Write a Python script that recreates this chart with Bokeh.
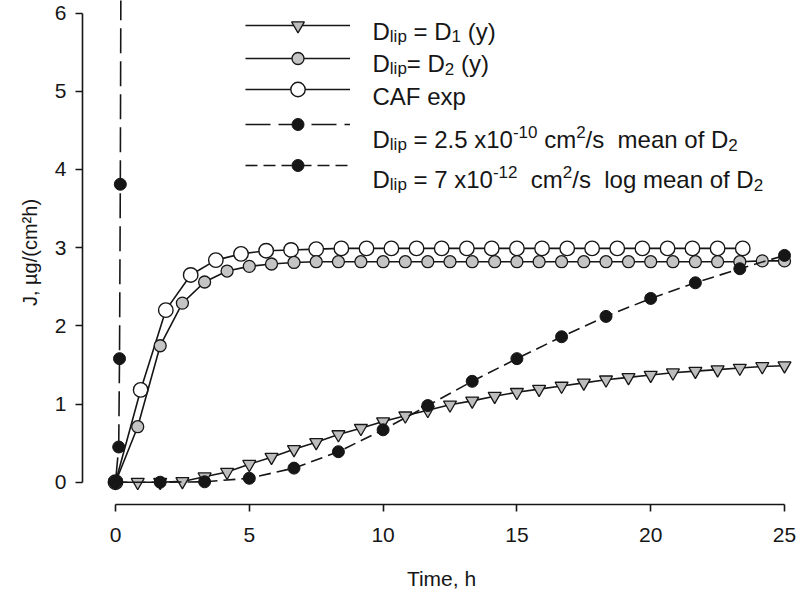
import re
from bokeh.plotting import figure
from bokeh.models import Range1d, Label, Legend, LegendItem, FixedTicker
from bokeh.core.properties import value
from bokeh.embed import file_html
from bokeh.resources import INLINE

# ---------------- data ----------------
x_ticks = [0, 5, 10, 15, 20, 25]
y_ticks = [0, 1, 2, 3, 4, 5, 6]

t_sim = [0, 0.83, 1.67, 2.5, 3.33, 4.17, 5, 5.83, 6.67, 7.5, 8.33, 9.17, 10, 10.83,
         11.67, 12.5, 13.33, 14.17, 15, 15.83, 16.67, 17.5, 18.33, 19.17, 20, 20.83,
         21.67, 22.5, 23.33, 24.17, 25]
j_d1 = [0, 0, 0, 0.01, 0.07, 0.13, 0.23, 0.32, 0.42, 0.51, 0.61, 0.69, 0.775, 0.85,
        0.92, 0.99, 1.04, 1.10, 1.15, 1.19, 1.23, 1.27, 1.31, 1.34, 1.37, 1.40,
        1.42, 1.44, 1.46, 1.48, 1.49]
j_d2 = [0, 0.71, 1.745, 2.29, 2.56, 2.70, 2.76, 2.79, 2.81, 2.82, 2.82, 2.82, 2.82,
        2.82, 2.82, 2.82, 2.82, 2.82, 2.82, 2.82, 2.82, 2.82, 2.82, 2.82, 2.82, 2.82,
        2.82, 2.82, 2.82, 2.83, 2.83]

t_exp = [0, 0.94, 1.88, 2.81, 3.75, 4.69, 5.63, 6.56, 7.5, 8.44, 9.38, 10.31, 11.25,
         12.19, 13.13, 14.06, 15, 15.94, 16.88, 17.81, 18.75, 19.69, 20.63, 21.56,
         22.5, 23.44]
j_exp = [0, 1.18, 2.20, 2.65, 2.84, 2.92, 2.96, 2.97, 2.98, 2.99, 2.99, 2.99, 2.99,
         2.99, 2.99, 2.99, 2.99, 2.99, 2.99, 2.99, 2.99, 2.99, 2.99, 2.99, 2.99, 2.99]

t_mean = [0, 0.12, 0.15, 0.18, 0.21]
j_mean = [0, 0.45, 1.58, 3.81, 7.5]

t_logmean = [0, 1.67, 3.33, 5, 6.67, 8.33, 10, 11.67, 13.33, 15, 16.67, 18.33, 20,
             21.67, 23.33, 25]
j_logmean = [0, 0, 0.005, 0.05, 0.18, 0.39, 0.67, 0.98, 1.29, 1.58, 1.86, 2.12, 2.35,
             2.55, 2.73, 2.90]

x_title = "Time, h"
y_title = "J, µg/(cm²h)"

# ---------------- layout (picture pixels) ----------------
W, H = 800, 593
FR_L, FR_B, FR_T, FR_R = 82, 504, 0, 800      # frame edges
PX0, PX25 = 115, 784                          # x of data x=0 and x=25
PY0, PY6 = 481.7, 12.5                        # y of data y=0 and y=6
sx_per = (PX25 - PX0) / 25.0
sy_per = (PY0 - PY6) / 6.0
x_start = (FR_L - PX0) / sx_per
x_end = 25 + (FR_R - PX25) / sx_per
y_start = -(FR_B - PY0) / sy_per
y_end = 6 + (PY6 - FR_T) / sy_per

INK = "#161616"
FONT = "Liberation Sans"

p = figure(width=W, height=H, output_backend="svg", toolbar_location=None,
           x_range=Range1d(x_start, x_end), y_range=Range1d(y_start, y_end),
           min_border_left=FR_L, min_border_bottom=H - FR_B,
           min_border_top=FR_T, min_border_right=W - FR_R)
p.outline_line_color = None
p.xgrid.visible = False
p.ygrid.visible = False
p.background_fill_color = "white"
p.border_fill_color = "white"

for ax, ticks, b in ((p.xaxis, x_ticks, (0, 25)), (p.yaxis, y_ticks, (0, 6))):
    ax.ticker = FixedTicker(ticks=ticks)
    ax.bounds = b
    ax.axis_line_width = 1.6
    ax.axis_line_color = INK
    ax.major_tick_line_width = 1.6
    ax.major_tick_line_color = INK
    ax.major_tick_out = 7
    ax.major_tick_in = 0
    ax.minor_tick_line_color = None
    ax.major_label_text_font = FONT
    ax.major_label_text_font_size = "21px"
    ax.major_label_text_color = INK
    ax.axis_label_text_font = FONT
    ax.axis_label_text_font_style = "normal"
    ax.axis_label_text_color = INK

p.xaxis.major_label_standoff = 16
p.yaxis.major_label_standoff = 9
p.xaxis.axis_label = x_title
p.yaxis.axis_label = y_title
p.xaxis.axis_label_text_font_size = "21px"
p.yaxis.axis_label_text_font_size = "20px"
p.xaxis.axis_label_standoff = 22
p.yaxis.axis_label_standoff = 11

# ---------------- series ----------------
LW = 1.6
r_exp_l = p.line(t_exp, j_exp, line_color=INK, line_width=LW)
r_exp_m = p.scatter(t_exp, j_exp, marker="circle", size=14.5, fill_color="white",
                    line_color=INK, line_width=1.4)
r_d2_l = p.line(t_sim, j_d2, line_color=INK, line_width=LW)
r_d2_m = p.scatter(t_sim, j_d2, marker="circle", size=12, fill_color="#c4c4c4",
                   line_color=INK, line_width=1.3)
r_d1_l = p.line(t_sim, j_d1, line_color=INK, line_width=LW)
r_d1_m = p.scatter(t_sim, j_d1, marker="inverted_triangle", size=13, fill_color="#bdbdbd",
                   line_color=INK, line_width=1.3)
r_lm_l = p.line(t_logmean, j_logmean, line_color=INK, line_width=LW, line_dash="12 6")
r_lm_m = p.scatter(t_logmean, j_logmean, marker="circle", size=12, fill_color=INK,
                   line_color=INK, line_width=1)
r_m_l = p.line(t_mean, j_mean, line_color=INK, line_width=LW, line_dash="25 8")
r_m_m = p.scatter(t_mean, j_mean, marker="circle", size=12, fill_color=INK,
                  line_color=INK, line_width=1)

# ---------------- legend samples (one legend per row) ----------------
LEG_X0, LEG_W = 245, 105
rows = [
    ([r_d1_l, r_d1_m], 25.0, 13),
    ([r_d2_l, r_d2_m], 58.3, 12),
    ([r_exp_l, r_exp_m], 88.5, 14.5),
    ([r_m_l, r_m_m], 124.0, 12),
    ([r_lm_l, r_lm_m], 165.0, 12),
]
for rends, cy, msize in rows:
    gh = int(round(msize / 0.4))
    leg = Legend(items=[LegendItem(label=value(""), renderers=rends)],
                 location=(LEG_X0 - FR_L, FR_B - cy - gh / 2),
                 glyph_width=LEG_W, glyph_height=gh,
                 label_width=0, label_height=gh, label_standoff=0,
                 label_text_font_size="1px", padding=0, margin=0, spacing=0,
                 border_line_color=None, background_fill_alpha=0)
    p.add_layout(leg)

# ---------------- legend texts (rich text built from pieces) ----------------
AW = {' ': 278, '=': 584, '(': 333, ')': 333, '.': 278, '-': 333, '/': 278,
      '0': 556, '1': 556, '2': 556, '3': 556, '4': 556, '5': 556, '6': 556, '7': 556,
      '8': 556, '9': 556, 'A': 667, 'C': 722, 'D': 722, 'F': 611, 'a': 556, 'c': 500,
      'e': 556, 'f': 278, 'g': 556, 'i': 222, 'l': 222, 'm': 833, 'n': 556, 'o': 556,
      'p': 556, 's': 500, 'x': 500, 'y': 500}
F_MAIN, F_SMALL = 24, 17
SUB_DY, SUP_DY = 5, -8


def tw(s, size):
    return sum(AW.get(c, 556) for c in s) / 1000.0 * size


def rich(parts, x0, base):
    x = x0
    for txt, kind in parts:
        size = F_MAIN if kind == "n" else F_SMALL
        dy = 0 if kind == "n" else (SUB_DY if kind == "sub" else SUP_DY)
        for piece in re.split(r"( +)", txt):
            if piece == "":
                continue
            if piece.strip() == "":
                x += tw(piece, size)
                continue
            p.add_layout(Label(x=x - FR_L, y=FR_B - (base + dy), x_units="screen",
                               y_units="screen", text=piece, text_font=FONT,
                               text_font_size=f"{size}px", text_color=INK,
                               text_baseline="alphabetic", text_align="left"))
            x += tw(piece, size)


TX = 372
rich([("D", "n"), ("lip", "sub"), (" = D", "n"), ("1", "sub"), (" (y)", "n")], TX, 30.7)
rich([("D", "n"), ("lip", "sub"), ("= D", "n"), ("2", "sub"), (" (y)", "n")], TX, 63.3)
rich([("CAF exp", "n")], TX, 96.0)
rich([("D", "n"), ("lip", "sub"), (" = 2.5 x10", "n"), ("-10", "sup"), (" cm", "n"),
      ("2", "sup"), ("/s  mean of D", "n"), ("2", "sub")], TX, 139.0)
rich([("D", "n"), ("lip", "sub"), (" = 7 x10", "n"), ("-12", "sup"), ("  cm", "n"),
      ("2", "sup"), ("/s  log mean of D", "n"), ("2", "sub")], TX, 179.3)

open("out.html", "w").write(file_html(p, INLINE))
